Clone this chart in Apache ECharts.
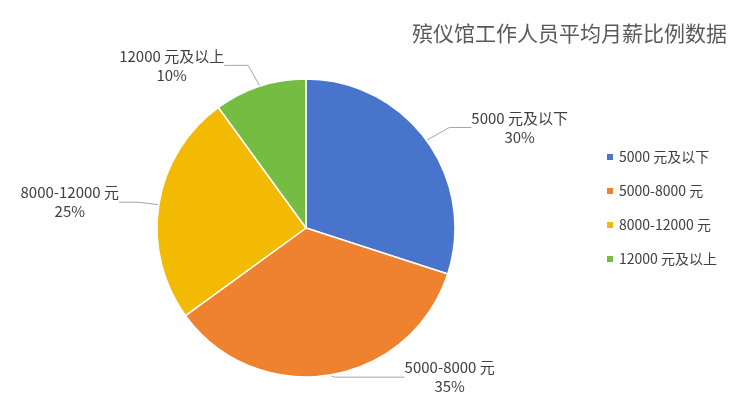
<!DOCTYPE html>
<html><head><meta charset="utf-8">
<script src="https://cdn.jsdelivr.net/npm/echarts@6/dist/echarts.min.js"></script>
<style>html,body{margin:0;padding:0;background:#fff}#c{width:743px;height:411px}</style>
</head><body><div id="c"></div>
<script>
const titleText = '殡仪馆工作人员平均月薪比例数据';
const categories = ['5000 元及以下', '5000-8000 元', '8000-12000 元', '12000 元及以上'];
const values = [30, 35, 25, 10];
const colors = ['#4874CB', '#EE822F', '#F2BA02', '#75BD42'];

const lineLen = [[22, 22], [2, 70], [16, 19], [22, 24]];

const chart = echarts.init(document.getElementById('c'));
chart.setOption({
  animation: false,
  color: colors,
  title: {
    text: titleText, right: 11, top: 18,
    textStyle: { fontSize: 21, fontWeight: 'normal', color: '#595959', fontFamily: 'Noto Sans CJK SC' }
  },
  legend: {
    orient: 'vertical', left: 600, top: 145, itemGap: 20,
    icon: 'rect', itemWidth: 8, itemHeight: 8,
    textStyle: { fontSize: 14, color: '#404040', fontFamily: 'Noto Sans CJK SC' },
    data: categories
  },
  series: [{
    type: 'pie',
    center: [306, 228],
    radius: 149,
    startAngle: 90,
    clockwise: true,
    itemStyle: { borderColor: '#fff', borderWidth: 1.5 },
    label: {
      formatter: '{b}\n{d}%', fontSize: 15, lineHeight: 19, color: '#404040',
      fontFamily: 'Noto Sans CJK SC'
    },
    labelLine: { length: 22, length2: 22, lineStyle: { color: '#A6A6A6', width: 1 } },
    labelLayout: function (p) {
      const r = p.labelRect;
      return { x: r.x + r.width / 2, y: r.y + r.height / 2, align: 'center', verticalAlign: 'middle' };
    },
    data: categories.map((c, i) => ({
      name: c, value: values[i],
      labelLine: { length: lineLen[i][0], length2: lineLen[i][1] }
    }))
  }]
});
</script></body></html>
